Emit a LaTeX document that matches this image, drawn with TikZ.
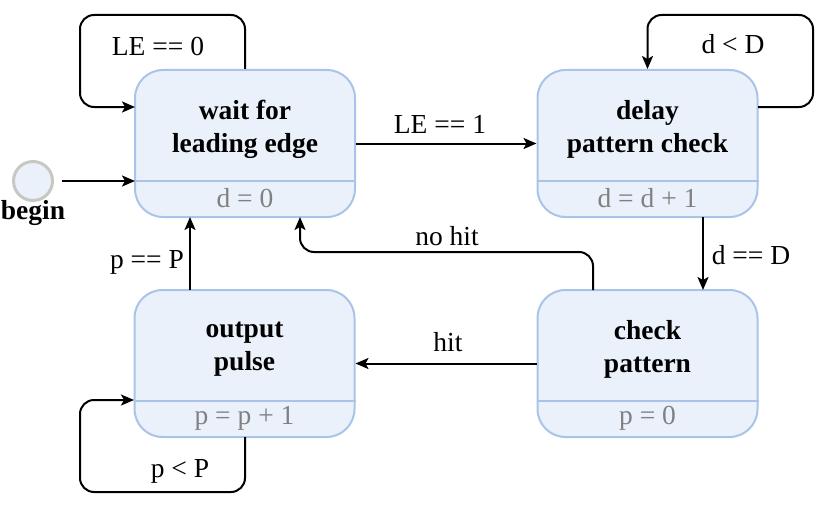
\documentclass[tikz,border=0pt]{standalone}
\usepackage{fontspec}
\setmainfont{Liberation Serif}
\usetikzlibrary{arrows.meta}
\definecolor{boxfill}{HTML}{EBF1FB}
\definecolor{boxline}{HTML}{A9C4E8}
\definecolor{subtext}{HTML}{808080}
\definecolor{ringgray}{HTML}{C8C8C2}
\begin{document}
\begin{tikzpicture}[x=1pt,y=-1pt,
  state/.style={draw=boxline, fill=boxfill, line width=2pt, rounded corners=28pt,
    minimum width=220pt, minimum height=147pt, inner sep=0pt},
  divider/.style={draw=boxline, line width=2pt},
  title/.style={font=\fontsize{27.5}{33}\selectfont\bfseries, align=center, inner sep=0pt},
  sub/.style={font=\fontsize{27.5}{33}\selectfont, text=subtext, inner sep=0pt},
  lbl/.style={font=\fontsize{27.5}{33}\selectfont, inner sep=0pt},
  conn/.style={line width=2pt, -{Stealth[length=13pt,width=11pt,inset=3pt]}, rounded corners=14pt}]
\useasboundingbox (0,0) rectangle (830,511);

% states
\node[state] (wait) at (245,143.5) {};
\node[state] (delay) at (647.5,143.5) {};
\node[state] (out) at (244.5,363.5) {};
\node[state] (chk) at (647.5,363.5) {};

\foreach \n in {wait,delay,out,chk}{
  \draw[divider] ([yshift=-37pt]\n.west) -- ([yshift=-37pt]\n.east);
}

\node[title] (waitT) at ([yshift=14pt]wait.center) {wait for\\leading edge};
\node[title] (delayT) at ([yshift=14pt]delay.center) {delay\\pattern check};
\node[title] (outT) at ([yshift=14pt]out.center) {output\\pulse};
\node[title] (chkT) at ([yshift=14pt]chk.center) {check\\pattern};

\node[sub] (waitS) at ([yshift=-55pt]wait.center) {d = 0};
\node[sub] (delayS) at ([yshift=-55pt]delay.center) {d = d + 1};
\node[sub] (outS) at ([yshift=-55pt]out.center) {p = p + 1};
\node[sub] (chkS) at ([yshift=-55pt]chk.center) {p = 0};

% initial state
\node[circle, draw=ringgray, line width=3pt, fill=boxfill, minimum size=39pt, inner sep=0pt] (begin) at (33,181) {};
\node[title] (beginL) at (33,213) {begin};
\coordinate (beginIn) at (135,181);
\draw[conn] (begin.east) ++(8pt,0) coordinate (beginOut) -- (beginIn);

% LE == 0 self loop
\coordinate (l1a) at (245,15);
\coordinate (l1b) at (80,15);
\coordinate (l1c) at (80,107);
\coordinate (l1d) at (135,107);
\draw[conn] (wait.north) -- (l1a) -- (l1b) -- (l1c) -- (l1d);
\node[lbl] (le0) at (158,46) {LE == 0};

% LE == 1
\draw[conn] (wait.east) -- (delay.west);
\node[lbl] (le1) at (440,124) {LE == 1};

% d < D self loop
\coordinate (l2s) at (758,107);
\coordinate (l2a) at (813,107);
\coordinate (l2b) at (813,15);
\coordinate (l2c) at (647.5,15);
\draw[conn] (l2s) -- (l2a) -- (l2b) -- (l2c) -- (delay.north);
\node[lbl] (dlD) at (733,44) {d < D};

% d == D
\coordinate (ddA) at (703,217);
\coordinate (ddB) at (703,290);
\draw[conn] (ddA) -- (ddB);
\node[lbl] (deqD) at (751,255) {d == D};

% no hit
\coordinate (nhA) at (593,290);
\coordinate (nhB) at (593,252);
\coordinate (nhC) at (300,252);
\coordinate (nhD) at (300,217);
\draw[conn] (nhA) -- (nhB) -- (nhC) -- (nhD);
\node[lbl] (nohit) at (447,236) {no hit};

% hit
\draw[conn] (chk.west) -- (out.east);
\node[lbl] (hit) at (448,342) {hit};

% p == P
\coordinate (pA) at (190,290);
\coordinate (pB) at (190,217);
\draw[conn] (pA) -- (pB);
\node[lbl] (peqP) at (147,262) {p == P};

% p < P self loop
\coordinate (l3s) at (245,437);
\coordinate (l3a) at (245,492);
\coordinate (l3b) at (80,492);
\coordinate (l3c) at (80,400);
\coordinate (l3d) at (134,400);
\draw[conn] (l3s) -- (l3a) -- (l3b) -- (l3c) -- (l3d);
\node[lbl] (plP) at (180,471) {p < P};
\end{tikzpicture}
\end{document}
